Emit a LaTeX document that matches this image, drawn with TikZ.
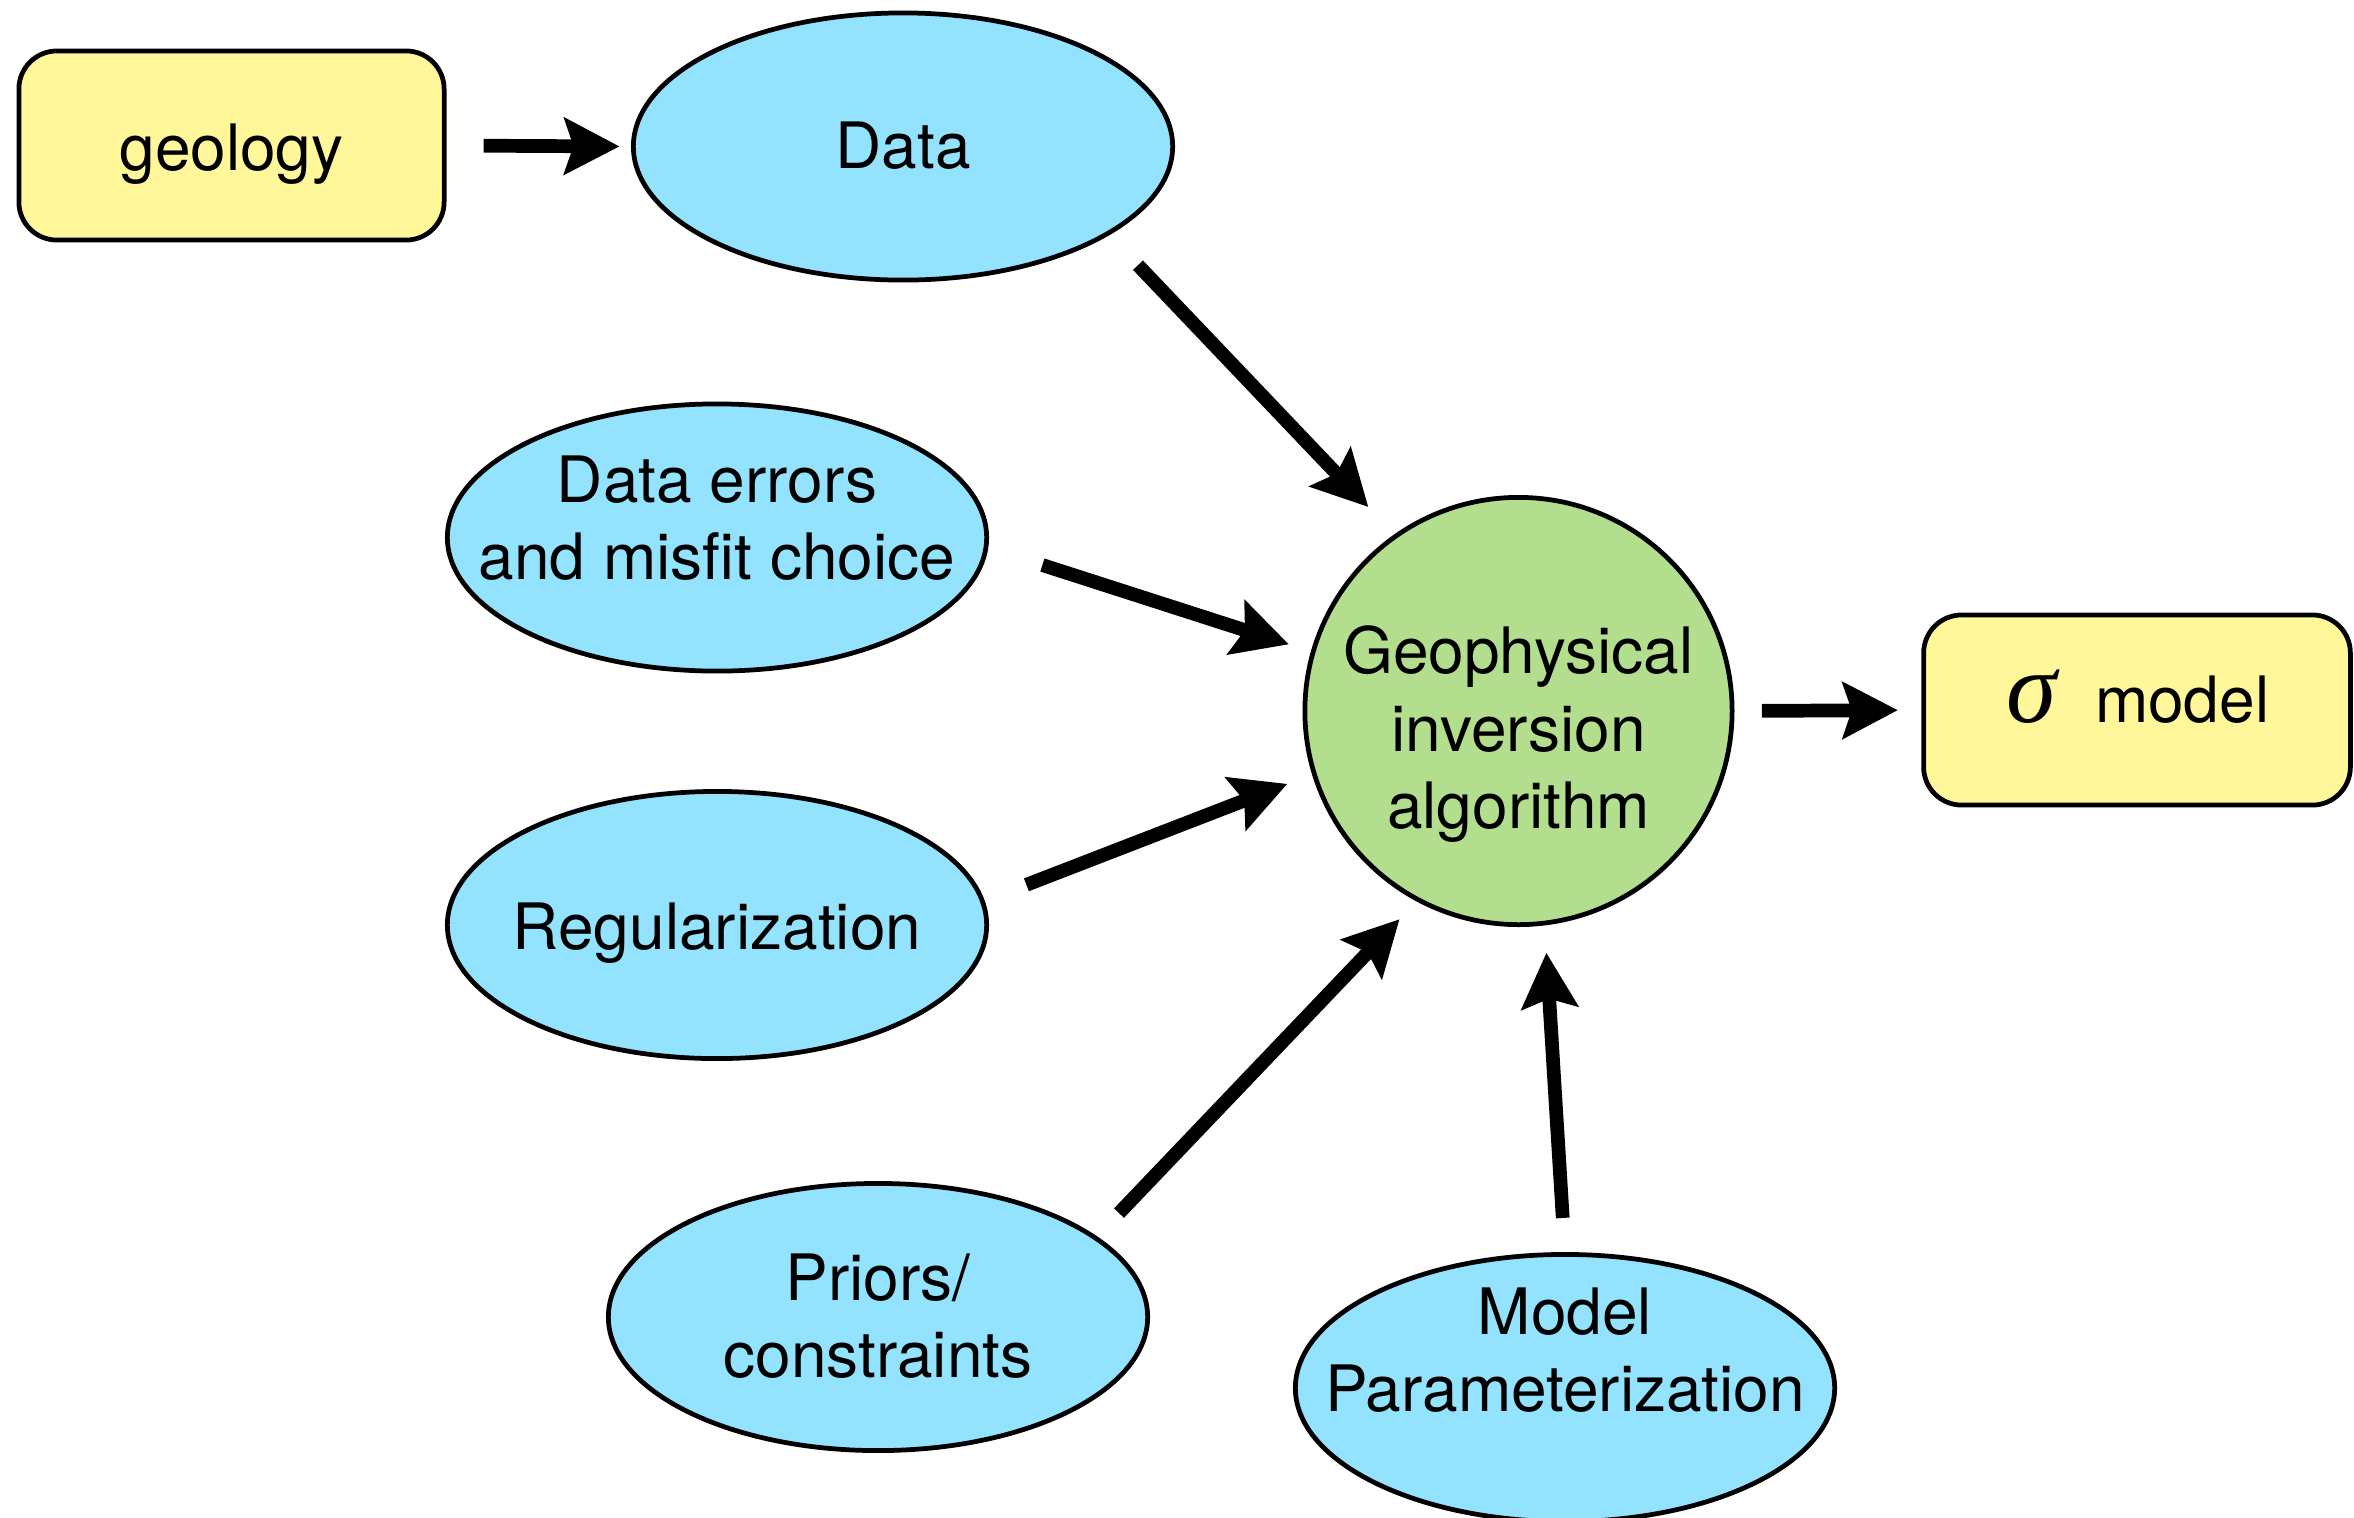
\documentclass[tikz,border=0pt]{standalone}
\usepackage{fontspec}
\setmainfont{TeX Gyre Heros}
\newfontfamily\greekserif{Liberation Serif}
\usetikzlibrary{arrows.meta,calc,shapes.geometric}
\definecolor{boxyellow}{RGB}{255,247,153}
\definecolor{blobblue}{RGB}{148,227,254}
\definecolor{coregreen}{RGB}{178,222,142}
\begin{document}
\begin{tikzpicture}[x=0.01cm,y=-0.01cm,
  every node/.style={inner sep=0pt, outer sep=0pt},
  frame/.style={draw=black, line width=1.35pt},
  roundbox/.style={frame, rectangle, rounded corners=0.38cm, fill=boxyellow,
                   minimum width=4.25cm, minimum height=1.89cm},
  blob/.style={frame, ellipse, fill=blobblue, minimum width=5.39cm, minimum height=2.67cm},
  core/.style={frame, circle, fill=coregreen, minimum size=4.27cm},
  words/.style={anchor=base, font=\fontsize{18.2pt}{22pt}\selectfont},
  feed/.style={line width=3.9pt, -{Stealth[length=0.55cm,width=0.56cm,inset=0.09cm]}},
]
% canvas
\useasboundingbox (0,0) rectangle (2354,1517);
\fill[white] (0,0) rectangle (2354,1517);
\clip (0,0) rectangle (2354,1517);

% input and output boxes
\node[roundbox] (geology) at (231.5,145.5) {};
\node[words] (geologyT) at ($(geology)+(0,24.5)$) {geology};

\node[roundbox, minimum width=4.265cm, minimum height=1.9cm] (sigma) at (2137,710) {};
\node[words, anchor=base west] (sigmaS) at (2006,722.7) {\greekserif\itshape\fontsize{29pt}{29pt}\selectfont σ};
\node[words, anchor=base west] (sigmaT) at (2095,722.7) {model};

% ingredients of the inversion
\node[blob] (data) at (903,146.5) {};
\node[words] (dataT) at ($(data)+(0,21.8)$) {Data};

\node[blob] (misfit) at (717,537.5) {};
\node[words] (misfitA) at ($(misfit)+(0,-35.5)$) {Data errors};
\node[words] (misfitB) at ($(misfit)+(0,42.1)$) {and misfit choice};

\node[blob] (reg) at (717,925) {};
\node[words] (regT) at ($(reg)+(0,24)$) {Regularization};

\node[blob] (priors) at (878,1317) {};
\node[words] (priorsA) at ($(priors)+(0,-17)$) {Priors/};
\node[words] (priorsB) at ($(priors)+(0,60.7)$) {constraints};

\node[blob] (param) at (1565,1388) {};
\node[words] (paramA) at ($(param)+(0,-54)$) {Model};
\node[words] (paramB) at ($(param)+(0,23.7)$) {Parameterization};

% the inversion itself
\node[core] (inv) at (1518.5,711) {};
\node[words] (invA) at ($(inv)+(0,-37.7)$) {Geophysical};
\node[words] (invB) at ($(inv)+(0,40.7)$) {inversion};
\node[words] (invC) at ($(inv)+(0,117.3)$) {algorithm};

% flow
\draw[feed, shorten <=0.395cm, shorten >=0.138cm] (geology.east) -- (data.west);
\draw[feed, shorten <=0.4384cm, shorten >=0.4009cm] (data.-23.71) -- (inv.125.52);
\draw[feed, shorten <=0.5923cm, shorten >=0.2553cm] (misfit.-2.74) -- (inv.164.64);
\draw[feed, shorten <=0.4701cm, shorten >=0.2884cm] (reg.5.92) -- (inv.197.98);
\draw[feed, shorten <=0.3432cm, shorten >=0.2699cm] (priors.20.54) -- (inv.-118.39);
\draw[feed, shorten <=0.3656cm, shorten >=0.2978cm] (param.90.82) -- (inv.-83.14);
\draw[feed, shorten <=0.297cm, shorten >=0.2575cm] (inv.east) -- (sigma.west);
\end{tikzpicture}
\end{document}
